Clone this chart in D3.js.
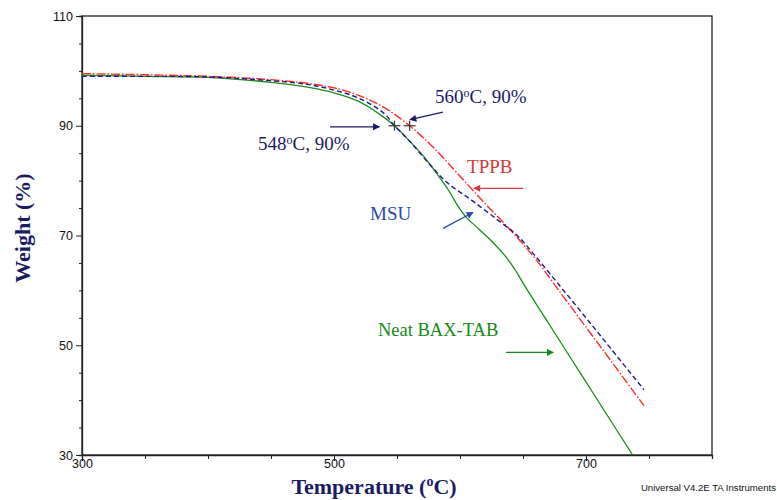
<!DOCTYPE html>
<html>
<head>
<meta charset="utf-8">
<script src="https://cdn.jsdelivr.net/npm/d3@7"></script>
<style>
  body { margin: 0; background: #fff; }
  svg { display: block; }
</style>
</head>
<body>
<svg id="chart" width="777" height="500"></svg>
<script>
// TGA curves
const neatTemp = [300, 350, 400, 450, 480, 500, 520, 535, 548, 560, 572, 584, 591, 598, 605, 612, 625, 635, 643, 652, 670, 690, 710, 737]
const neatWeight = [99.2, 99.0, 98.8, 97.9, 97.0, 96.0, 94.4, 92.3, 90.0, 87.2, 84.2, 80.5, 78.2, 75.5, 73.3, 71.8, 69.0, 66.5, 64.0, 60.6, 54.1, 46.9, 39.7, 30.0]

const msuTemp = [300, 350, 400, 450, 480, 500, 520, 540, 548, 560, 575, 590, 610, 630, 645, 660, 680, 700, 720, 746]
const msuWeight = [99.0, 99.0, 98.9, 98.2, 97.5, 96.5, 95.0, 92.2, 90.0, 87.2, 83.2, 79.6, 76.3, 72.8, 70.1, 66.2, 60.6, 55.0, 49.3, 41.9]

const tppbTemp = [300, 350, 400, 450, 480, 500, 520, 540, 560, 580, 600, 620, 640, 660, 680, 700, 720, 746]
const tppbWeight = [99.5, 99.3, 99.0, 98.4, 97.7, 96.9, 95.5, 93.3, 90.0, 85.8, 80.8, 75.8, 71.0, 65.7, 59.5, 53.3, 47.1, 39.0]

const xTicks = [300, 500, 700]
const yTicks = [110, 90, 70, 50, 30]

const svg = d3.select('#chart')
const plotLeft = 82, plotRight = 712, plotTop = 16, plotBottom = 455

const x = d3.scaleLinear().domain([300, 800]).range([plotLeft, plotRight])
const y = d3.scaleLinear().domain([30, 110]).range([plotBottom, plotTop])

const navy = '#1b1b62'
const serif = 'Liberation Serif, Times New Roman, serif'
const sans = 'Liberation Sans, Arial, sans-serif'

// arrow heads
const defs = svg.append('defs')
function arrowHead(id, color) {
    defs.append('marker')
        .attr('id', id)
        .attr('viewBox', '0 0 10 10')
        .attr('refX', 9).attr('refY', 5)
        .attr('markerWidth', 10).attr('markerHeight', 7)
        .attr('markerUnits', 'userSpaceOnUse')
        .attr('orient', 'auto')
        .append('path')
        .attr('d', 'M0,0 L10,5 L0,10 Z')
        .attr('fill', color)
}
arrowHead('a-navy', navy)
arrowHead('a-red', '#d43a3a')
arrowHead('a-blue', '#2a4aa8')
arrowHead('a-green', '#16881a')

defs.append('clipPath').attr('id', 'plot-clip')
    .append('rect')
    .attr('x', plotLeft).attr('y', plotTop)
    .attr('width', plotRight - plotLeft).attr('height', plotBottom - plotTop)

// frame
svg.append('rect')
    .attr('x', plotLeft).attr('y', plotTop)
    .attr('width', plotRight - plotLeft).attr('height', plotBottom - plotTop)
    .attr('fill', 'none')
    .attr('stroke', '#222')
    .attr('stroke-width', 1.3)

// axes
const xAxis = svg.append('g')
    .attr('transform', `translate(0,${plotBottom})`)
    .call(d3.axisBottom(x).tickValues(d3.range(300, 801, 50)).tickSize(4).tickFormat(d => xTicks.includes(d) ? d : ''))
xAxis.selectAll('.tick line').attr('y2', d => xTicks.includes(d) ? 6 : 4)
xAxis.selectAll('text').attr('dy', '0.45em')

const yAxis = svg.append('g')
    .attr('transform', `translate(${plotLeft},0)`)
    .call(d3.axisLeft(y).tickValues(d3.range(30, 111, 5)).tickSize(3).tickFormat(d => yTicks.includes(d) ? d : ''))
yAxis.selectAll('.tick line').attr('x2', d => yTicks.includes(d) ? -6 : -3)
yAxis.selectAll('text').attr('x', -9)

svg.selectAll('.domain').attr('stroke', '#222').attr('stroke-width', 1.3)
svg.selectAll('.tick line').attr('stroke', '#222')
svg.selectAll('.tick text')
    .attr('font-family', sans)
    .attr('font-size', 12.5)
    .attr('fill', '#111')

// curves
const line = d3.line()
    .x(d => x(d[0]))
    .y(d => y(d[1]))
    .curve(d3.curveCatmullRom.alpha(0.5))

const plot = svg.append('g').attr('clip-path', 'url(#plot-clip)')

plot.append('path')
    .datum(d3.zip(neatTemp, neatWeight))
    .attr('d', line)
    .attr('fill', 'none')
    .attr('stroke', '#1a8c1a')
    .attr('stroke-width', 1.3)

plot.append('path')
    .datum(d3.zip(tppbTemp, tppbWeight))
    .attr('d', line)
    .attr('fill', 'none')
    .attr('stroke', '#ff2a2a')
    .attr('stroke-width', 1.4)
    .attr('stroke-dasharray', '9,2,1.5,2')

plot.append('path')
    .datum(d3.zip(msuTemp, msuWeight))
    .attr('d', line)
    .attr('fill', 'none')
    .attr('stroke', '#1c1c8c')
    .attr('stroke-width', 1.4)
    .attr('stroke-dasharray', '5,3')

// onset markers
const onsets = [[548, 90], [560, 90]]
const cross = svg.append('g')
for (let p of onsets) {
    cross.append('line')
        .attr('x1', x(p[0]) - 6).attr('x2', x(p[0]) + 6)
        .attr('y1', y(p[1])).attr('y2', y(p[1]))
        .attr('stroke', '#333').attr('stroke-width', 1.2)
    cross.append('line')
        .attr('x1', x(p[0])).attr('x2', x(p[0]))
        .attr('y1', y(p[1]) - 5).attr('y2', y(p[1]) + 5)
        .attr('stroke', '#333').attr('stroke-width', 1.2)
}

// annotations: [temp, weight] anchors
function arrow(from, to, color, marker) {
    svg.append('line')
        .attr('x1', x(from[0])).attr('y1', y(from[1]))
        .attr('x2', x(to[0])).attr('y2', y(to[1]))
        .attr('stroke', color)
        .attr('stroke-width', 1.3)
        .attr('marker-end', `url(#${marker})`)
}

function degreeLabel(at, num, tail) {
    const t = svg.append('text')
        .attr('x', x(at[0])).attr('y', y(at[1]))
        .attr('font-family', serif)
        .attr('font-size', 19)
        .attr('fill', navy)
    t.append('tspan').text(num)
    t.append('tspan').attr('font-size', 12).attr('dy', -6).text('o')
    t.append('tspan').attr('dy', 6).text(tail)
}

degreeLabel([580.2, 94.1], '560', 'C, 90%')
arrow([586.5, 92.5], [560.3, 91.1], navy, 'a-navy')

degreeLabel([439.7, 85.6], '548', 'C, 90%')
arrow([496.8, 89.8], [536, 89.8], navy, 'a-navy')

svg.append('text')
    .attr('x', x(605.6)).attr('y', y(81.4))
    .attr('font-family', serif).attr('font-size', 19)
    .attr('fill', '#d43a3a')
    .text('TPPB')
arrow([650, 78.6], [611, 78.6], '#d43a3a', 'a-red')

svg.append('text')
    .attr('x', x(528.6)).attr('y', y(72.8))
    .attr('font-family', serif).attr('font-size', 19)
    .attr('fill', '#2a4aa8')
    .text('MSU')
arrow([586.5, 71.3], [610.3, 74.2], '#2a4aa8', 'a-blue')

svg.append('text')
    .attr('x', x(534.9)).attr('y', y(51.7))
    .attr('font-family', serif).attr('font-size', 18.5)
    .attr('fill', '#16881a')
    .text('Neat BAX-TAB')
arrow([636.5, 48.7], [674, 48.7], '#16881a', 'a-green')

// axis titles
svg.append('text')
    .attr('transform', 'translate(30,228) rotate(-90)')
    .attr('text-anchor', 'middle')
    .attr('font-family', serif)
    .attr('font-weight', 'bold')
    .attr('font-size', 22)
    .attr('fill', navy)
    .text('Weight (%)')

const xt = svg.append('text')
    .attr('x', 374).attr('y', 494)
    .attr('text-anchor', 'middle')
    .attr('font-family', serif)
    .attr('font-weight', 'bold')
    .attr('font-size', 22)
    .attr('fill', navy)
xt.append('tspan').text('Temperature (')
xt.append('tspan').attr('font-size', 14).attr('dy', -8).text('o')
xt.append('tspan').attr('dy', 8).text('C)')

svg.append('text')
    .attr('x', 776).attr('y', 491)
    .attr('text-anchor', 'end')
    .attr('font-family', sans)
    .attr('font-size', 9.6)
    .attr('fill', '#111')
    .text('Universal V4.2E TA Instruments')
</script>
</body>
</html>
